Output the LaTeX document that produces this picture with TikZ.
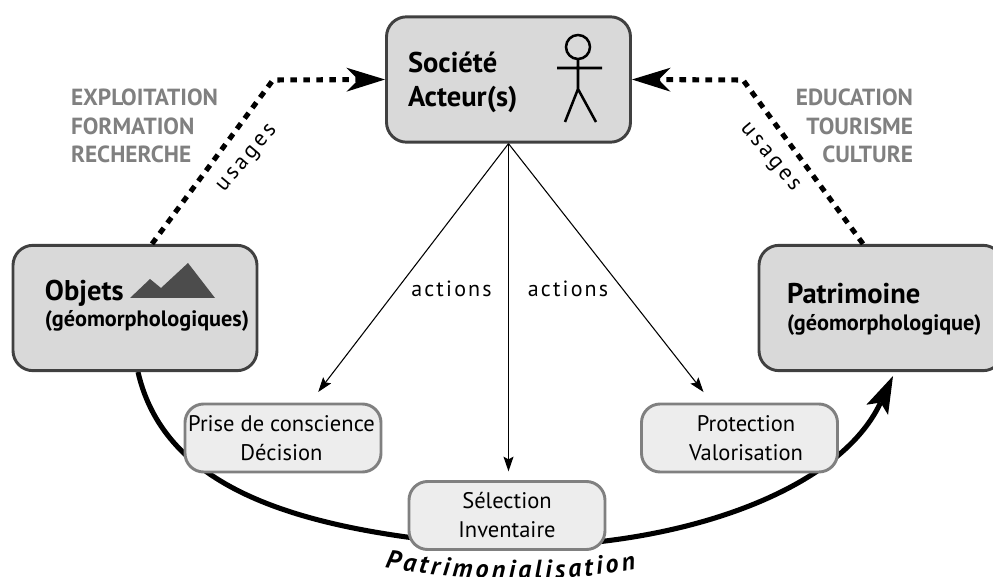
\documentclass[tikz,border=0pt]{standalone}
\usepackage{fontspec}
\setmainfont{PT Sans}
\newfontfamily\spaced[LetterSpace=10]{PT Sans}
\newfontfamily\spacedwide[LetterSpace=14]{PT Sans}
\usetikzlibrary{arrows.meta,decorations.text,calc}
\tikzset{
  bigbox/.style={draw=black!75,line width=2.2pt,fill=black!15,rounded corners=15pt,minimum width=183pt,minimum height=94pt,inner sep=0pt},
  smallbox/.style={draw=black!50,line width=2.2pt,fill=black!7,rounded corners=14pt,minimum width=147pt,minimum height=51pt,inner sep=0pt},
  txt/.style={inner sep=0pt,outer sep=0pt},
  boldtxt/.style={txt,font=\bfseries\fontsize{21.4}{25.5}\selectfont},
  subtxt/.style={txt,font=\bfseries\fontsize{16.7}{19}\selectfont},
  smalltxt/.style={txt,font=\fontsize{16.9}{21.4}\selectfont,align=center},
  greytxt/.style={txt,text=black!50,font=\bfseries\fontsize{17.5}{21.4}\selectfont},
  spacetxt/.style={txt,font=\spaced\fontsize{16.5}{18}\selectfont},
  usagetxt/.style={txt,font=\spacedwide\fontsize{17}{18}\selectfont},
  usage/.style={line width=3.8pt,dash pattern=on 5pt off 4.75pt,-{Stealth[length=29pt,width=18pt,inset=9pt,line width=0pt]}},
  thin arrow/.style={line width=0.8pt,-{Stealth[length=11pt,width=7.5pt,inset=2pt]}},
  figure line/.style={line width=1.9pt}
}
\begin{document}
\begin{tikzpicture}[x=0.75pt,y=-0.75pt]
\useasboundingbox (0,0) rectangle (993,577);
\coordinate (tipc) at (893,376);
\coordinate (mid) at (480,545);
\coordinate (cl) at (273,80);
\coordinate (cr) at (743,80);
\draw[line width=3.8pt,-{Stealth[length=28pt,width=18pt,inset=6pt,line width=0pt]}] (138,372) .. controls (165,490) and (300,530) .. (mid) .. controls (650,555) and (835,500) .. (tipc);
\node[bigbox] (soc) at (508.5,79.5) {};
\node[bigbox] (obj) at (135,308) {};
\node[bigbox] (pat) at (881,308) {};
\node[smallbox] (prise) at (283,438) {};
\node[smallbox] (sel) at (507,515.5) {};
\node[smallbox] (prot) at (739.5,438) {};
\draw[usage] ([xshift=12.75pt]obj.north) -- (cl) -- (soc.west);
\draw[usage] ([xshift=-13.5pt]pat.north) -- (cr) -- (soc.east);
\draw[thin arrow,shorten >=10pt] (soc.south) -- (prise);
\draw[thin arrow,shorten >=6.5pt] (soc.south) -- (soc.south |- sel.north);
\draw[thin arrow,shorten >=10pt] (soc.south) -- (prot);
\node[boldtxt,anchor=base west,align=left] (t1) at (408,107) {Société\\Acteur(s)};
\node[boldtxt,anchor=base west] (t2) at (45,301) {Objets};
\node[subtxt,anchor=base west] (t3) at (45,327) {(géomorphologiques)};
\node[boldtxt,anchor=base west] (t4) at (787,304) {Patrimoine};
\node[subtxt,anchor=base west] (t5) at (787,331) {(géomorphologique)};
\node[smalltxt,anchor=base] (t6) at (281.5,460) {Prise de conscience\\Décision};
\node[smalltxt,anchor=base] (t7) at (507,537) {Sélection\\Inventaire};
\node[smalltxt,anchor=base] (t8) at (746,460) {Protection\\Valorisation};
\node[greytxt,anchor=base west,align=left] (t9) at (71,163) {EXPLOITATION\\FORMATION\\RECHERCHE};
\node[greytxt,anchor=base east,align=right] (t10) at (913,163) {EDUCATION\\TOURISME\\CULTURE};
\node[spacetxt,anchor=base] (t11) at (451.5,297) {actions};
\node[spacetxt,anchor=base] (t12) at (568,297) {actions};
\node[usagetxt,rotate=50] (t13) at (248,159) {usages};
\node[usagetxt,rotate=-50] (t14) at (769,158) {usages};
\fill[black!70] (130,298) -- (150,279) -- (161,288) -- (188,263) -- (215,298) -- cycle;
\draw[figure line] (578,47) circle (12);
\draw[figure line] (578,59) -- (578,89) -- (565,122) (578,89) -- (596,122) (557,68) -- (602,68);
\path[decorate,decoration={text along path,text align={fit to path},text={|\itshape\bfseries\fontsize{19.5}{20}\selectfont|Patrimonialisation}}] (385,567) .. controls (450,581) and (560,584) .. (636,569);
\end{tikzpicture}
\end{document}
